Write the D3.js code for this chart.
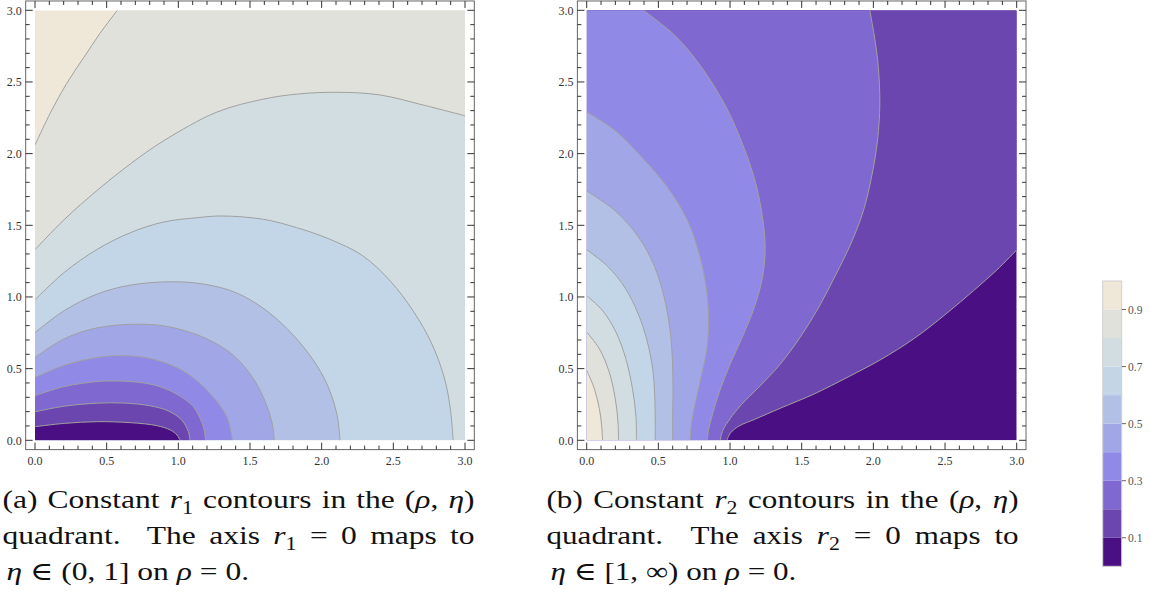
<!DOCTYPE html>
<html><head><meta charset="utf-8">
<script src="https://cdn.jsdelivr.net/npm/d3@7"></script>
<style>body{margin:0;background:#fff}svg{display:block}</style>
</head><body>
<svg id="c" width="1151" height="592"></svg>
<script>
// ---------- data ----------
const levels = [0.1,0.2,0.3,0.4,0.5,0.6,0.7,0.8,0.9];
const bandColors = ["#4b0f84","#6a46ae","#7f68d0","#9189e6","#a1a6e6","#b2c0e6","#c2d6e8","#d2dde2","#e0e1db","#efe7d7"];
const axisTicks = [0,0.5,1,1.5,2,2.5,3];
const axisTickLabels = ["0.0","0.5","1.0","1.5","2.0","2.5","3.0"];
const colorbarTicks = [0.1,0.3,0.5,0.7,0.9];
const colorbarTickLabels = ["0.1","0.3","0.5","0.7","0.9"];

// r1 contours (rho, eta), left panel
const r1_01 = [[0,0.095],[0.204,0.118],[0.435,0.130],[0.667,0.123],[0.852,0.102],[0.944,0.072],[0.991,0.037],[1.012,0]];
const r1_02 = [[0,0.199],[0.204,0.238],[0.435,0.259],[0.620,0.260],[0.806,0.240],[0.93,0.205],[1.023,0.142],[1.07,0.06],[1.081,0]];
const r1_03 = [[0,0.311],[0.204,0.375],[0.435,0.41],[0.55,0.414],[0.72,0.405],[0.872,0.374],[1.0,0.315],[1.105,0.234],[1.174,0.095],[1.19,0]];
const r1_04 = [[0,0.437],[0.204,0.523],[0.435,0.578],[0.57,0.59],[0.75,0.58],[0.919,0.537],[1.07,0.46],[1.198,0.351],[1.338,0.165],[1.377,0]];
const r1_05 = [[0,0.578],[0.204,0.708],[0.435,0.785],[0.756,0.81],[0.968,0.785],[1.199,0.708],[1.384,0.593],[1.523,0.431],[1.616,0.245],[1.657,0.106],[1.669,0]];
const r1_06 = [[0,0.752],[0.204,0.905],[0.435,1.021],[0.667,1.083],[0.944,1.106],[1.176,1.090],[1.407,1.028],[1.639,0.886],[1.872,0.653],[2.024,0.42],[2.105,0.188],[2.128,0]];
const r1_07 = [[0,0.98],[0.204,1.171],[0.435,1.333],[0.667,1.449],[0.898,1.523],[1.130,1.553],[1.3,1.565],[1.593,1.542],[1.824,1.484],[2.056,1.403],[2.287,1.287],[2.48,1.11],[2.64,0.9],[2.77,0.67],[2.86,0.42],[2.90,0.2],[2.917,0]];
const r1_08 = [[0,1.33],[0.204,1.54],[0.435,1.745],[0.667,1.93],[0.898,2.09],[1.269,2.29],[1.593,2.38],[1.824,2.415],[2.102,2.428],[2.403,2.41],[2.704,2.34],[3.0,2.264]];
const r1_09 = [[0,2.06],[0.11,2.29],[0.221,2.49],[0.34,2.67],[0.454,2.84],[0.574,3.0]];

// r2 contours (rho, eta), right panel
const r2_01 = [[3.0,1.328],[2.861,1.188],[2.70,1.045],[2.512,0.886],[2.287,0.712],[2.046,0.560],[1.824,0.442],[1.593,0.326],[1.349,0.223],[1.176,0.148],[1.06,0.098],[1.002,0.05],[0.979,0]];
const r2_02 = [[1.975,3.0],[2.01,2.8],[2.035,2.6],[2.045,2.35],[2.03,2.1],[1.99,1.85],[1.93,1.6],[1.838,1.36],[1.73,1.14],[1.62,0.93],[1.49,0.72],[1.349,0.53],[1.2,0.37],[1.08,0.25],[1.0,0.15],[0.95,0.07],[0.931,0]];
const r2_03 = [[0.395,3.0],[0.62,2.82],[0.81,2.59],[0.97,2.33],[1.09,2.06],[1.18,1.79],[1.23,1.53],[1.245,1.33],[1.225,1.13],[1.17,0.93],[1.09,0.73],[1.0,0.53],[0.93,0.35],[0.88,0.19],[0.85,0.07],[0.84,0]];
const r2_04 = [[0,2.29],[0.2,2.16],[0.38,1.98],[0.56,1.77],[0.70,1.54],[0.785,1.30],[0.835,1.06],[0.85,0.85],[0.84,0.65],[0.80,0.45],[0.758,0.26],[0.73,0.11],[0.722,0]];
const r2_05 = [[0,1.74],[0.2,1.6],[0.36,1.42],[0.47,1.22],[0.54,1.0],[0.58,0.78],[0.598,0.56],[0.602,0.35],[0.6,0.15],[0.6,0]];
const r2_06 = [[0,1.33],[0.15,1.21],[0.27,1.06],[0.36,0.88],[0.42,0.70],[0.46,0.5],[0.475,0.3],[0.478,0.12],[0.478,0]];
const r2_07 = [[0,1.009],[0.111,0.905],[0.204,0.755],[0.273,0.569],[0.319,0.361],[0.343,0.176],[0.347,0]];
const r2_08 = [[0,0.755],[0.088,0.639],[0.157,0.477],[0.199,0.292],[0.218,0.13],[0.222,0]];
const r2_09 = [[0,0.488],[0.053,0.361],[0.088,0.222],[0.104,0.106],[0.111,0]];

const r1Lines = [r1_01,r1_02,r1_03,r1_04,r1_05,r1_06,r1_07,r1_08,r1_09];
const r2Lines = [r2_01,r2_02,r2_03,r2_04,r2_05,r2_06,r2_07,r2_08,r2_09];

// caption text
const capA = {sym:"a", sub:"1", iv:"(0, 1]"};
const capB = {sym:"b", sub:"2", iv:"[1, ∞)"};

// ---------- drawing ----------
const svg = d3.select("#c");
const PAD = 0.065;
const SERIF = "Liberation Serif, DejaVu Serif, serif";

function perimT(p){
  const [r,e]=p, eps=1e-3;
  if (Math.abs(r)<eps) return e;
  if (Math.abs(e-3)<eps) return 3+r;
  if (Math.abs(r-3)<eps) return 6+(3-e);
  return 9+(3-r);
}
const corners=[[0,0],[0,3],[3,3],[3,0]];
function closing(start,end){
  let ts=perimT(start), te=perimT(end);
  if (ts<=te) ts+=12;
  const pts=[];
  for (let c=0;c<=24;c+=3){ if (c>te && c<ts) pts.push(corners[(c/3)%4]); }
  return pts;
}

function panel(id, x0, lines, mode){
  const x = d3.scaleLinear().domain([0,3]).range([x0, x0+430]);
  const y = d3.scaleLinear().domain([0,3]).range([440.3, 10.3]);
  const g = svg.append("g");
  g.append("clipPath").attr("id","clip"+id).append("rect")
    .attr("x",x(0)).attr("y",y(3)).attr("width",x(3)-x(0)).attr("height",y(0)-y(3));
  const plot = g.append("g").attr("clip-path","url(#clip"+id+")");
  const line = d3.line().x(d=>x(d[0])).y(d=>y(d[1])).curve(d3.curveCatmullRom.alpha(0.5));
  plot.append("rect").attr("x",x(0)).attr("y",y(3)).attr("width",x(3)-x(0)).attr("height",y(0)-y(3))
    .attr("fill", mode==="low" ? bandColors[9] : bandColors[0]);
  let order = levels.map((l,i)=>i);
  if (mode==="low") order.reverse();
  order.forEach(i=>{
    const pts = lines[i];
    const close = closing(pts[0], pts[pts.length-1]);
    const d = line(pts) + close.map(c=>"L"+x(c[0])+","+y(c[1])).join("") + "Z";
    plot.append("path").attr("d",d)
      .attr("fill", mode==="low" ? bandColors[i] : bandColors[i+1]);
  });
  lines.forEach(pts=>{
    plot.append("path").attr("d",line(pts)).attr("fill","none")
      .attr("stroke","#a0a0a0").attr("stroke-width",1);
  });
  const fx0=x(-PAD), fx1=x(3+PAD), fy0=y(-PAD), fy1=y(3+PAD);
  g.append("rect").attr("x",fx0).attr("y",fy1).attr("width",fx1-fx0).attr("height",fy0-fy1)
    .attr("fill","none").attr("stroke","#666").attr("stroke-width",1);
  const minor = x.ticks(30);
  const isMajor = v => axisTicks.some(t=>Math.abs(t-v)<1e-6);
  const tk = g.append("g").attr("stroke","#333").attr("stroke-width",1);
  minor.forEach(v=>{
    const L = isMajor(v)?7:4;
    tk.append("line").attr("x1",x(v)).attr("x2",x(v)).attr("y1",fy0).attr("y2",fy0-L);
    tk.append("line").attr("x1",x(v)).attr("x2",x(v)).attr("y1",fy1).attr("y2",fy1+L);
    tk.append("line").attr("y1",y(v)).attr("y2",y(v)).attr("x1",fx0).attr("x2",fx0+L);
    tk.append("line").attr("y1",y(v)).attr("y2",y(v)).attr("x1",fx1).attr("x2",fx1-L);
  });
  axisTicks.forEach((v,i)=>{
    g.append("text").attr("x",x(v)).attr("y",fy0+15.7).attr("text-anchor","middle")
      .style("font-family",SERIF).attr("font-size",12).attr("fill","#333").text(axisTickLabels[i]);
    g.append("text").attr("x",fx0-4).attr("y",y(v)).attr("dy","0.35em").attr("text-anchor","end")
      .style("font-family",SERIF).attr("font-size",12).attr("fill","#333").text(axisTickLabels[i]);
  });
}
panel("a", 35, r1Lines, "low");
panel("b", 586.7, r2Lines, "high");

// colorbar
const cb = d3.scaleLinear().domain([0,1]).range([566.3, 281]);
const cbg = svg.append("g");
bandColors.forEach((c,i)=>{
  cbg.append("rect").attr("x",1102.7).attr("width",19).attr("y",cb((i+1)/10)).attr("height",cb(i/10)-cb((i+1)/10)).attr("fill",c);
});
cbg.append("rect").attr("x",1102.7).attr("width",19).attr("y",cb(1)).attr("height",cb(0)-cb(1))
  .attr("fill","none").attr("stroke","#d0d0d0").attr("stroke-width",1);
colorbarTicks.forEach((v,i)=>{
  cbg.append("line").attr("x1",1121.7).attr("x2",1126).attr("y1",cb(v)).attr("y2",cb(v)).attr("stroke","#666");
  cbg.append("text").attr("x",1128).attr("y",cb(v)).attr("dy","0.35em").style("font-family",SERIF)
    .attr("font-size",11.5).attr("fill","#555").text(colorbarTickLabels[i]);
});

// captions (Computer-Modern-like width emulated by horizontal stretch)
const CAP_FS = 25.5;
function caption(x0, yb, parts){
  const g = svg.append("g").attr("transform",`translate(${x0},${yb})`);
  const t = g.append("text").attr("x",0).attr("y",0).style("font-family",SERIF)
    .attr("font-size",CAP_FS).attr("fill","#111");
  parts.forEach(p=>{
    const s = t.append("tspan").text(p[0]);
    if (p[1]==="i") s.style("font-style","italic");
    if (p[1]==="sub") s.attr("font-size",CAP_FS*0.7).attr("dy",6);
    if (p[2]) s.attr("dy",p[2]);
  });
  return {g, t};
}
function nSpaces(t){ return (t.text().match(/ /g)||[]).length; }
function captionBlock(x0, c){
  const l1 = caption(x0, 508, [["("+c.sym+") Constant "],["r","i"],[c.sub,"sub"],[" contours in the (","",-6],["ρ","i"],[", "],["η","i"],[")"]]);
  const l2 = caption(x0, 544, [["quadrant.\u00A0 The axis "],["r","i"],[c.sub,"sub"],[" = 0 maps to","",-6]]);
  const l3 = caption(x0+4, 580, [["η","i"],[" ∈ "+c.iv+" on "],["ρ","i"],[" = 0."]]);
  const w1 = l1.t.node().getComputedTextLength();
  const w3 = l3.t.node().getComputedTextLength();
  const sx = (472 / w1 * 0.55 + 233 / w3 * 0.45);
  [l1,l2,l3].forEach(l=>{
    const tr = l.g.attr("transform");
    l.g.attr("transform", tr + ` scale(${sx},1)`);
  });
  [l1,l2].forEach(l=>{
    const target = 472 / sx;
    for (let k=0;k<3;k++){
      const w = l.t.node().getComputedTextLength();
      const cur = parseFloat(l.t.style("word-spacing")) || 0;
      l.t.style("word-spacing", (cur + (target - w) / nSpaces(l.t)) + "px");
    }
  });
}
captionBlock(2.5, capA);
captionBlock(546.5, capB);
</script>
</body></html>
